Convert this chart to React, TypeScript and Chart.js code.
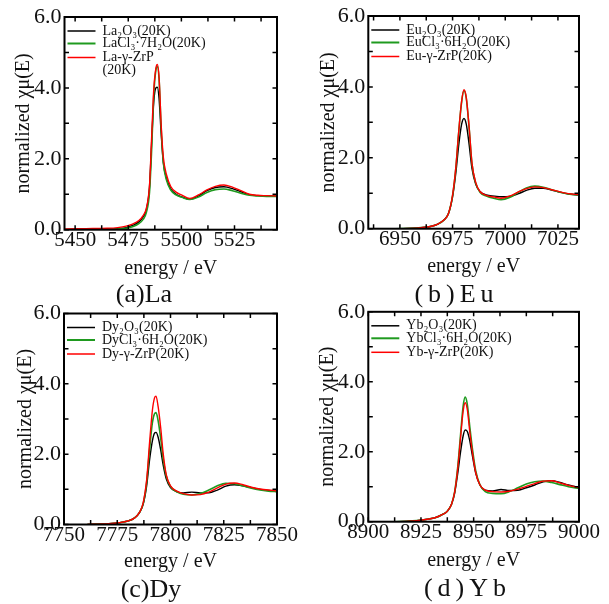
import React, { useEffect, useRef } from 'react';
import { Chart, registerables } from 'chart.js';

Chart.register(...registerables);

const SERIF = "'Liberation Serif', 'Times New Roman', serif";

// ---------- (a) La ----------
const energyLa = [5445, 5455, 5465, 5470, 5474, 5477, 5480, 5482, 5483.5, 5485, 5486, 5487, 5488, 5488.7, 5489.5, 5490.5, 5491.5, 5493, 5495, 5497.5, 5500, 5504, 5508, 5512, 5516, 5520, 5524, 5528, 5532, 5536, 5540, 5545];
const laOxide = [0.0, 0.0, 0.01, 0.03, 0.06, 0.12, 0.22, 0.36, 0.56, 1.2, 2.45, 3.6, 4.0, 4.02, 3.7, 2.7, 1.9, 1.45, 1.15, 1.0, 0.93, 0.86, 0.95, 1.1, 1.19, 1.21, 1.16, 1.07, 0.99, 0.96, 0.95, 0.95];
const laChloride = [0.0, 0.0, 0.01, 0.02, 0.04, 0.08, 0.17, 0.29, 0.48, 1.05, 2.25, 3.8, 4.5, 4.6, 4.25, 2.85, 1.9, 1.4, 1.12, 0.98, 0.92, 0.85, 0.92, 1.05, 1.13, 1.15, 1.1, 1.03, 0.97, 0.95, 0.94, 0.94];
const laZrP = [0.02, 0.03, 0.04, 0.06, 0.1, 0.16, 0.26, 0.4, 0.6, 1.25, 2.6, 3.95, 4.55, 4.66, 4.3, 2.95, 2.05, 1.55, 1.22, 1.06, 0.98, 0.88, 0.98, 1.12, 1.22, 1.26, 1.2, 1.1, 1.0, 0.97, 0.96, 0.95];
const labelsLa = ['La₂O₃(20K)', 'LaCl₃·7H₂O(20K)', 'La-γ-ZrP\n(20K)'];
const xTicksLa = [5450, 5462.5, 5475, 5487.5, 5500, 5512.5, 5525, 5537.5];

// ---------- (b) Eu ----------
const energyEu = [6942, 6948, 6955, 6960, 6965, 6968, 6971, 6973, 6975, 6976.5, 6978, 6979.3, 6980.4, 6981.5, 6982.8, 6984.2, 6986, 6988, 6991, 6995, 6998, 7002, 7006, 7010, 7014, 7018, 7022, 7026, 7030, 7035];
const euOxide = [0.0, 0.0, 0.01, 0.03, 0.07, 0.13, 0.25, 0.42, 0.9, 1.55, 2.4, 2.95, 3.11, 2.95, 2.4, 1.7, 1.25, 1.05, 0.95, 0.92, 0.9, 0.91, 0.98, 1.08, 1.14, 1.14, 1.09, 1.03, 0.98, 0.95];
const euChloride = [0.0, 0.0, 0.01, 0.03, 0.07, 0.13, 0.25, 0.42, 0.93, 1.68, 2.78, 3.58, 3.9, 3.68, 2.88, 1.83, 1.28, 1.03, 0.92, 0.85, 0.82, 0.88, 1.02, 1.15, 1.2, 1.17, 1.1, 1.03, 0.98, 0.95];
const euZrP = [0.0, 0.0, 0.01, 0.03, 0.07, 0.13, 0.25, 0.42, 0.95, 1.7, 2.8, 3.6, 3.92, 3.7, 2.9, 1.85, 1.3, 1.05, 0.94, 0.89, 0.86, 0.92, 1.03, 1.13, 1.18, 1.16, 1.1, 1.04, 0.99, 0.96];
const labelsEu = ['Eu₂O₃(20K)', 'EuCl₃·6H₂O(20K)', 'Eu-γ-ZrP(20K)'];
const xTicksEu = [6937.5, 6950, 6962.5, 6975, 6987.5, 7000, 7012.5, 7025];

// ---------- (c) Dy ----------
const energyDy = [7761, 7766, 7771, 7776, 7780, 7783, 7785.5, 7787.2, 7788.8, 7790.2, 7791.5, 7792.5, 7793.2, 7794.2, 7795.4, 7796.6, 7798, 7800, 7803, 7806, 7810, 7814, 7818, 7822, 7826, 7830, 7834, 7838, 7842, 7846, 7850];
const dyOxide = [0.0, 0.01, 0.02, 0.05, 0.1, 0.18, 0.34, 0.58, 1.1, 1.85, 2.38, 2.6, 2.62, 2.48, 2.12, 1.68, 1.3, 1.05, 0.93, 0.9, 0.92, 0.9, 0.9, 0.98, 1.09, 1.13, 1.1, 1.05, 1.0, 0.97, 0.96];
const dyChloride = [0.0, 0.01, 0.02, 0.05, 0.1, 0.18, 0.35, 0.6, 1.2, 2.15, 2.9, 3.15, 3.18, 2.95, 2.45, 1.85, 1.38, 1.08, 0.93, 0.86, 0.84, 0.88, 0.98, 1.1, 1.17, 1.16, 1.1, 1.03, 0.98, 0.95, 0.93];
const dyZrP = [0.0, 0.01, 0.02, 0.05, 0.1, 0.18, 0.35, 0.62, 1.26, 2.35, 3.25, 3.6, 3.65, 3.35, 2.75, 2.0, 1.42, 1.1, 0.95, 0.88, 0.84, 0.85, 0.92, 1.04, 1.15, 1.18, 1.13, 1.06, 1.01, 0.98, 0.96];
const labelsDy = ['Dy₂O₃(20K)', 'DyCl₃·6H₂O(20K)', 'Dy-γ-ZrP(20K)'];
const xTicksDy = [7750, 7762.5, 7775, 7787.5, 7800, 7812.5, 7825, 7837.5, 7850];

// ---------- (d) Yb ----------
const energyYb = [8913, 8918, 8923, 8928, 8932, 8935, 8937.5, 8939.5, 8941, 8942.5, 8943.8, 8945, 8946, 8947, 8948.2, 8949.5, 8951, 8953, 8955.5, 8959, 8963, 8967, 8971, 8975, 8979, 8983, 8987, 8991, 8995, 9000];
const ybOxide = [0.0, 0.01, 0.03, 0.07, 0.12, 0.2, 0.3, 0.5, 0.82, 1.4, 2.0, 2.45, 2.62, 2.58, 2.3, 1.85, 1.38, 1.05, 0.9, 0.88, 0.92, 0.89, 0.9, 0.97, 1.05, 1.14, 1.17, 1.12, 1.05, 0.98];
const ybChloride = [0.0, 0.01, 0.03, 0.07, 0.12, 0.2, 0.3, 0.5, 0.86, 1.6, 2.5, 3.3, 3.56, 3.35, 2.7, 2.05, 1.45, 1.05, 0.86, 0.81, 0.8, 0.86, 0.97, 1.08, 1.14, 1.16, 1.12, 1.06, 1.0, 0.95];
const ybZrP = [0.0, 0.01, 0.03, 0.07, 0.12, 0.2, 0.3, 0.5, 0.85, 1.55, 2.4, 3.15, 3.4, 3.2, 2.55, 1.95, 1.4, 1.05, 0.9, 0.86, 0.85, 0.87, 0.93, 1.01, 1.09, 1.16, 1.17, 1.11, 1.04, 0.98];
const labelsYb = ['Yb₂O₃(20K)', 'YbCl₃·6H₂O(20K)', 'Yb-γ-ZrP(20K)'];
const xTicksYb = [8900, 8912.5, 8925, 8937.5, 8950, 8962.5, 8975, 8987.5, 9000];

// ---------- shared ----------
const yTicks = [0, 1, 2, 3, 4, 5, 6];
const seriesColors = ['#000000', '#1f9a1f', '#ff0000'];
const captions = ['(a)La', '(b)Eu', '(c)Dy', '(d)Yb'];

type PanelCfg = {
  energy: number[];
  series: number[][];
  labels: string[];
  xTicks: number[];
  xMin: number;
  xMax: number;
  box: { left: number; top: number; w: number; h: number; padTop: number; padRight: number; yW: number; xH: number; yTitlePad: number; xTitlePad: number };
};

const panels: PanelCfg[] = [
  { energy: energyLa, series: [laOxide, laChloride, laZrP], labels: labelsLa, xTicks: xTicksLa, xMin: 5445, xMax: 5545,
    box: { left: 0, top: 0, w: 300, h: 300, padTop: 17, padRight: 23, yW: 64.5, xH: 70.3, yTitlePad: 12, xTitlePad: 19 } },
  { energy: energyEu, series: [euOxide, euChloride, euZrP], labels: labelsEu, xTicks: xTicksEu, xMin: 6935, xMax: 7035,
    box: { left: 300, top: 0, w: 309, h: 300, padTop: 16, padRight: 30, yW: 68.3, xH: 71.3, yTitlePad: 17, xTitlePad: 21 } },
  { energy: energyDy, series: [dyOxide, dyChloride, dyZrP], labels: labelsDy, xTicks: xTicksDy, xMin: 7750, xMax: 7850,
    box: { left: 0, top: 300, w: 300, h: 304, padTop: 13.5, padRight: 23, yW: 64, xH: 79.5, yTitlePad: 14, xTitlePad: 30 } },
  { energy: energyYb, series: [ybOxide, ybChloride, ybZrP], labels: labelsYb, xTicks: xTicksYb, xMin: 8900, xMax: 9000,
    box: { left: 300, top: 300, w: 309, h: 304, padTop: 10, padRight: 30, yW: 68.3, xH: 82.3, yTitlePad: 15.5, xTitlePad: 31 } },
];

const captionPos = [
  { cx: 144, cy: 294, spacing: 0 },
  { cx: 454, cy: 294, spacing: 5 },
  { cx: 151, cy: 589, spacing: 0 },
  { cx: 465, cy: 588, spacing: 5 },
];

const TICK_LEN = 4.5;
const legendRows = [14, 26.5, 40.5];

const framePlugin = {
  id: 'frameLegend',
  afterDatasetsDraw(chart: any) {
    const { ctx, chartArea } = chart;
    const { left, right, top, bottom } = chartArea;
    const xs = chart.scales.x;
    const ys = chart.scales.y;
    ctx.save();
    ctx.strokeStyle = '#000';
    ctx.lineWidth = 1.5;
    ctx.beginPath();
    for (const t of xs.ticks) {
      const px = xs.getPixelForValue(t.value);
      ctx.moveTo(px, bottom);
      ctx.lineTo(px, bottom - TICK_LEN);
      ctx.moveTo(px, top);
      ctx.lineTo(px, top + TICK_LEN);
    }
    for (const t of ys.ticks) {
      const py = ys.getPixelForValue(t.value);
      ctx.moveTo(left, py);
      ctx.lineTo(left + TICK_LEN, py);
      ctx.moveTo(right, py);
      ctx.lineTo(right - TICK_LEN, py);
    }
    ctx.stroke();
    ctx.lineWidth = 2;
    ctx.strokeRect(left, top, right - left, bottom - top);

    // legend inside the plot area
    ctx.font = `14px ${SERIF}`;
    ctx.textBaseline = 'middle';
    ctx.textAlign = 'left';
    chart.data.datasets.forEach((ds: any, i: number) => {
      const y = top + legendRows[i];
      ctx.strokeStyle = ds.borderColor;
      ctx.lineWidth = i === 1 ? 2 : 1.5;
      ctx.beginPath();
      ctx.moveTo(left + 3, y);
      ctx.lineTo(left + 31, y);
      ctx.stroke();
      ctx.fillStyle = '#111';
      String(ds.label).split('\n').forEach((line: string, k: number) => {
        ctx.fillText(line, left + 38, y + k * 13);
      });
    });
    ctx.restore();
  },
};

function Panel({ cfg }: { cfg: PanelCfg }) {
  const ref = useRef<HTMLCanvasElement | null>(null);
  useEffect(() => {
    if (!ref.current) return;
    const b = cfg.box;
    const order = [2, 1, 0];
    const chart = new Chart(ref.current, {
      type: 'line',
      data: {
        datasets: cfg.series.map((vals, i) => ({
          label: cfg.labels[i],
          data: cfg.energy.map((e, k) => ({ x: e, y: vals[k] })),
          borderColor: seriesColors[i],
          backgroundColor: seriesColors[i],
          borderWidth: i === 1 ? 1.6 : 1.4,
          pointRadius: 0,
          pointHoverRadius: 0,
          fill: false,
          tension: 0.4,
          cubicInterpolationMode: 'monotone',
          order: order[i],
        })),
      },
      options: {
        animation: false,
        responsive: false,
        devicePixelRatio: 1,
        events: [],
        layout: { padding: { left: 0, top: b.padTop, right: b.padRight, bottom: 0 } },
        plugins: { legend: { display: false }, tooltip: { enabled: false }, title: { display: false } },
        scales: {
          x: {
            type: 'linear',
            min: cfg.xMin,
            max: cfg.xMax,
            afterBuildTicks: (scale: any) => {
              scale.ticks = cfg.xTicks.map((v) => ({ value: v }));
            },
            afterFit: (scale: any) => {
              scale.height = b.xH;
            },
            grid: { display: false, drawTicks: false },
            border: { display: false },
            ticks: {
              autoSkip: false,
              maxRotation: 0,
              minRotation: 0,
              padding: 0,
              color: '#111',
              font: { family: SERIF, size: 21, lineHeight: 1 },
              callback: (v: any) => (Number(v) % 25 === 0 ? String(v) : ''),
            },
            title: {
              display: true,
              text: 'energy / eV',
              color: '#111',
              font: { family: SERIF, size: 20 },
              padding: { top: 0, bottom: b.xTitlePad },
            },
          },
          y: {
            type: 'linear',
            min: 0,
            max: 6,
            afterBuildTicks: (scale: any) => {
              scale.ticks = yTicks.map((v) => ({ value: v }));
            },
            afterFit: (scale: any) => {
              scale.width = b.yW;
            },
            grid: { display: false, drawTicks: false },
            border: { display: false },
            ticks: {
              autoSkip: false,
              padding: 3,
              color: '#111',
              font: { family: SERIF, size: 22, lineHeight: 0.8 },
              callback: (v: any) => (Number(v) % 2 === 0 ? Number(v).toFixed(1) : ''),
            },
            title: {
              display: true,
              text: 'normalized χμ(E)',
              color: '#111',
              font: { family: SERIF, size: 20 },
              padding: { top: b.yTitlePad, bottom: 0 },
            },
          },
        },
      },
      plugins: [framePlugin],
    } as any);
    return () => chart.destroy();
  }, [cfg]);
  const b = cfg.box;
  return (
    <canvas
      ref={ref}
      width={b.w}
      height={b.h}
      style={{ position: 'absolute', left: b.left, top: b.top, width: b.w, height: b.h }}
    />
  );
}

export default function App() {
  return (
    <div style={{ position: 'absolute', left: 0, top: 0, width: 609, height: 604, background: '#fff', overflow: 'hidden' }}>
      {panels.map((p, i) => (
        <Panel key={i} cfg={p} />
      ))}
      {captions.map((c, i) => {
        const p = captionPos[i];
        return (
          <div
            key={'c' + i}
            style={{
              position: 'absolute',
              left: p.cx - 100 + p.spacing / 2,
              top: p.cy - 15,
              width: 200,
              height: 30,
              lineHeight: '30px',
              textAlign: 'center',
              fontFamily: SERIF,
              fontSize: 26,
              letterSpacing: p.spacing,
              color: '#111',
              whiteSpace: 'nowrap',
            }}
          >
            {c}
          </div>
        );
      })}
    </div>
  );
}
